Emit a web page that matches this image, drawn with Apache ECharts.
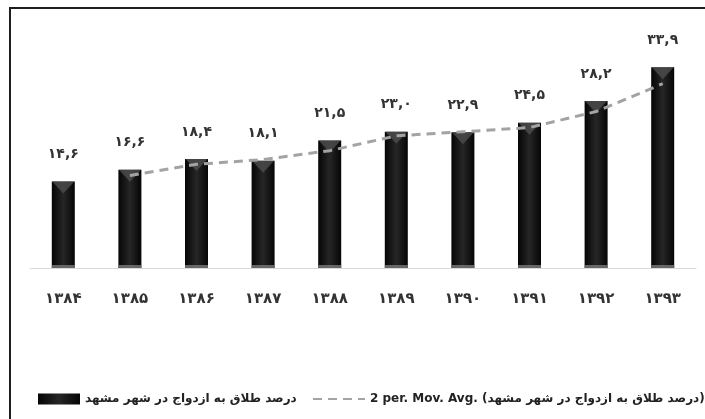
<!DOCTYPE html>
<html lang="fa">
<head>
<meta charset="UTF-8">
<title>درصد طلاق به ازدواج در شهر مشهد</title>
<script src="https://cdn.jsdelivr.net/npm/echarts@6/dist/echarts.min.js"></script>
<style>
    html, body { margin: 0; padding: 0; background: #fff; }
    #main { width: 705px; height: 419px; }
</style>
</head>
<body>
<div id="main"></div>
<script>
    // سال‌ها و مقادیر خوانده شده از نمودار
    var years = ['1384', '1385', '1386', '1387', '1388', '1389', '1390', '1391', '1392', '1393'];
    var ratio = [14.6, 16.6, 18.4, 18.1, 21.5, 23.0, 22.9, 24.5, 28.2, 33.9];
    var movAvg = [null, 15.6, 17.5, 18.3, 19.8, 22.3, 23.0, 23.7, 26.4, 31.1];
    var barName = 'درصد طلاق به ازدواج در شهر مشهد';
    var avgName = '2 per. Mov. Avg. (درصد طلاق به ازدواج در شهر مشهد)';

    var fontFa = '"DejaVu Sans", "Noto Sans", sans-serif';

    function fa(s) {
        return String(s).replace(/\d/g, function (d) { return '۰۱۲۳۴۵۶۷۸۹'[d]; }).replace('.', ',');
    }

    var myChart = echarts.init(document.getElementById('main'));
    var option = {
        animation: false,
        graphic: [{
            type: 'rect',
            shape: { x: 10, y: 8, width: 800, height: 500 },
            style: { fill: 'none', stroke: '#1e1e1e', lineWidth: 2 },
            silent: true
        }],
        legend: [{
            data: [{ name: barName, icon: 'rect' }],
            left: 33,
            top: 388,
            itemWidth: 42,
            itemHeight: 11,
            textStyle: { fontFamily: fontFa, fontWeight: 'bold', fontSize: 12, color: '#222' }
        }, {
            data: [avgName],
            left: 307,
            top: 388,
            itemWidth: 52,
            itemHeight: 11,
            itemStyle: { opacity: 0 },
            textStyle: { fontFamily: fontFa, fontWeight: 'bold', fontSize: 12, color: '#222' }
        }],
        grid: { left: 30, right: 9, top: 31, bottom: 151 },
        xAxis: {
            type: 'category',
            data: years,
            axisLine: { lineStyle: { color: '#d9d9d9', width: 1 } },
            axisTick: { show: false },
            axisLabel: {
                margin: 24,
                fontFamily: fontFa,
                fontWeight: 'bold',
                fontSize: 15,
                color: '#333',
                formatter: function (v) { return fa(v); }
            }
        },
        yAxis: {
            type: 'value',
            min: 0,
            max: 40,
            show: false,
            splitLine: { show: false }
        },
        series: [{
            name: barName,
            type: 'bar',
            data: ratio,
            barWidth: 23,
            itemStyle: {
                color: new echarts.graphic.LinearGradient(0, 0, 1, 0, [
                    { offset: 0, color: '#050505' },
                    { offset: 0.5, color: '#262626' },
                    { offset: 1, color: '#050505' }
                ])
            },
            label: {
                show: true,
                position: 'top',
                distance: 20,
                fontFamily: fontFa,
                fontWeight: 'bold',
                fontSize: 14,
                color: '#333',
                formatter: function (p) { return fa(p.value.toFixed(1)); }
            }
        }, {
            // مثلث بالای ستون
            type: 'scatter',
            data: ratio,
            symbol: 'triangle',
            symbolRotate: 180,
            symbolSize: [22, 12],
            symbolOffset: [0, 6],
            itemStyle: { color: '#4d4d4d' },
            silent: true,
            z: 3
        }, {
            // پایه ستون
            type: 'scatter',
            data: ratio.map(function () { return 0; }),
            symbol: 'rect',
            symbolSize: [23, 3],
            symbolOffset: [0, -1.5],
            itemStyle: { color: '#7a7a7a' },
            silent: true,
            z: 3
        }, {
            name: avgName,
            type: 'line',
            data: movAvg,
            symbol: 'none',
            lineStyle: { color: '#a3a3a3', width: 3, type: [9, 6] },
            itemStyle: { color: '#a3a3a3' },
            z: 4
        }]
    };
    myChart.setOption(option);
</script>
</body>
</html>
